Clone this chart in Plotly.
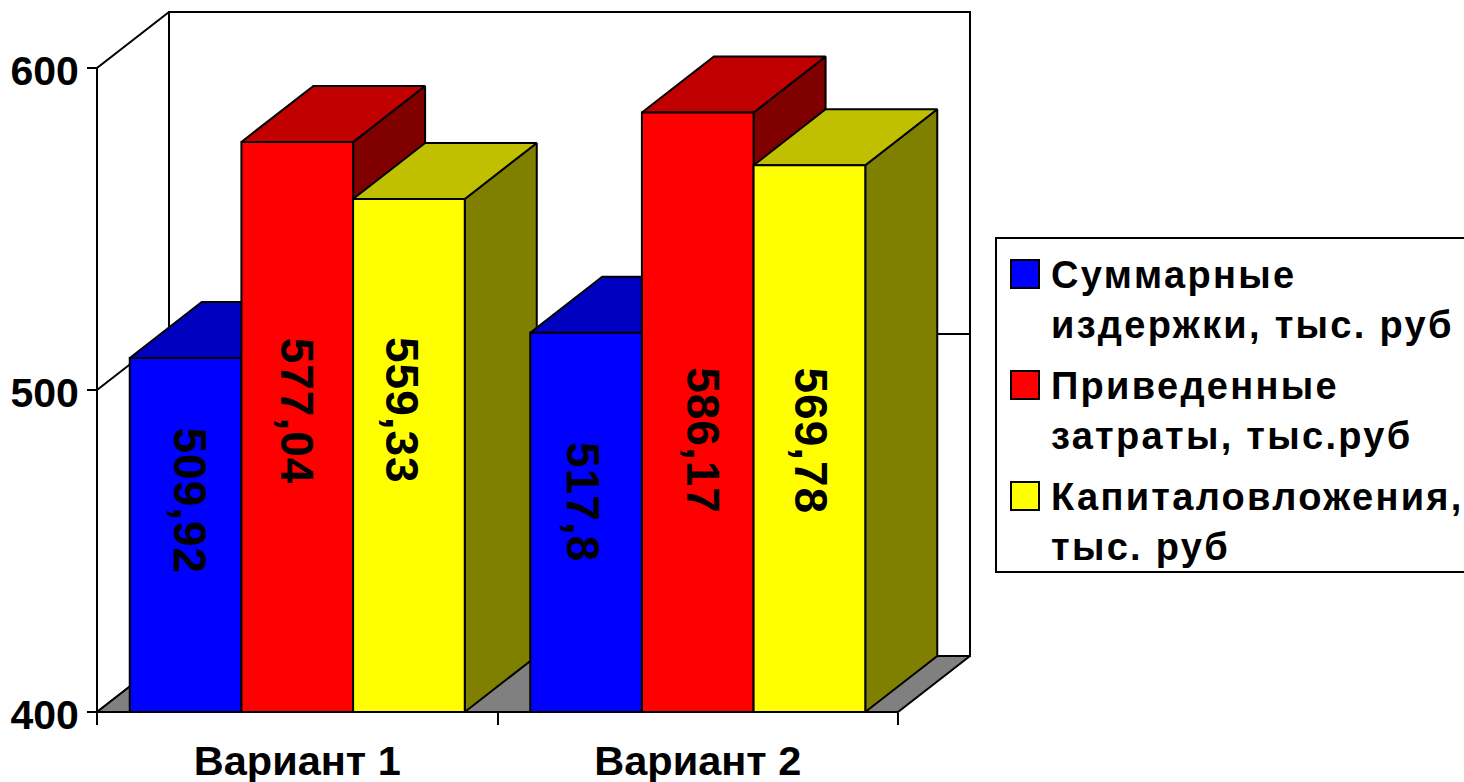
import plotly.graph_objects as go

W, H = 1464, 782

categories = ["Вариант 1", "Вариант 2"]
series_names = ["Суммарные издержки, тыс. руб", "Приведенные затраты, тыс.руб", "Капиталовложения, тыс. руб"]
values_costs = [509.92, 517.8]
values_reduced = [577.04, 586.17]
values_capital = [559.33, 569.78]
value_labels = [["509,92", "517,8"], ["577,04", "586,17"], ["559,33", "569,78"]]
label_mid = [[465.5, 465.2], [493.5, 484.2], [493.5, 484.2]]
label_shift = [[4, -3], [0, 5], [-7, 2]]
y_ticks = [400, 500, 600]
legend_lines = [["Суммарные", "издержки, тыс. руб"], ["Приведенные", "затраты, тыс.руб"], ["Капиталовложения,", "тыс. руб"]]

all_values = [values_costs, values_reduced, values_capital]
front = ["#0000ff", "#ff0000", "#ffff00"]
top_c = ["#0000c0", "#c00000", "#c0c000"]
side_c = ["#000080", "#800000", "#808000"]

# scales: pixels per data unit
PX_X, PX_Y = 400.5, 3.22
X0_PX, Y0_PX = 97, 712
xr = [-X0_PX / PX_X, (W - X0_PX) / PX_X]
yr = [400 - (H - Y0_PX) / PX_Y, 400 + Y0_PX / PX_Y]
DX, DY = 72 / PX_X, 56 / PX_Y
BASE, TOP = y_ticks[0], y_ticks[-1]
NCAT = len(categories)
GAP = 0.1635
BW = (1 - GAP) / 3
LINE = dict(color="black", width=2)

fig = go.Figure()


def poly(xs, ys, fill):
    fig.add_trace(go.Scatter(x=xs + xs[:1], y=ys + ys[:1], mode="lines", fill="toself", fillcolor=fill,
                             line=LINE, showlegend=False, hoverinfo="skip", xaxis="x", yaxis="y"))


def path(xs, ys):
    fig.add_trace(go.Scatter(x=xs, y=ys, mode="lines", line=LINE, showlegend=False, hoverinfo="skip",
                             xaxis="x", yaxis="y"))


# walls and floor
poly([0, DX, DX, 0], [BASE, BASE + DY, TOP + DY, TOP], "white")
poly([DX, NCAT + DX, NCAT + DX, DX], [BASE + DY, BASE + DY, TOP + DY, TOP + DY], "white")
poly([0, DX, NCAT + DX, NCAT], [BASE, BASE + DY, BASE + DY, BASE], "#808080")
path([0, DX, NCAT + DX], [500, 500 + DY, 500 + DY])

# depth faces of the columns, painted left to right
for g in range(NCAT):
    for s in range(3):
        v = all_values[s][g]
        left = g + 0.5 + (s - 1.5) * BW
        right = left + BW
        poly([right, right, right + DX, right + DX], [BASE, v, v + DY, BASE + DY], side_c[s])
        poly([left, right, right + DX, left + DX], [v, v, v + DY, v + DY], top_c[s])

# front faces of the columns
for s in range(3):
    fig.add_trace(go.Bar(x=[g + 0.5 for g in range(NCAT)], y=[v - BASE for v in all_values[s]], base=BASE,
                         name=series_names[s], marker=dict(color=front[s], line=LINE), showlegend=False,
                         xaxis="x2", yaxis="y2", hoverinfo="skip"))

path([0, NCAT], [BASE, BASE])
path([0, 0], [BASE, TOP])

ann = []
for s in range(3):
    for g in range(NCAT):
        ann.append(dict(x=g + 0.5 + (s - 1) * BW, y=label_mid[s][g], xref="x", yref="y",
                        text=f'<span style="letter-spacing:1px">{value_labels[s][g]}</span>',
                        textangle=90, showarrow=False, xshift=label_shift[s][g],
                        font=dict(family="Liberation Sans", size=46, color="black", weight="bold")))

# legend
shapes = [dict(type="rect", xref="paper", yref="paper", x0=996 / W, x1=1470 / W, y0=1 - 572 / H, y1=1 - 238 / H,
               line=dict(color="black", width=2), fillcolor="white", layer="above")]
swatch_top = [260, 371, 482]
line_mid = [[275, 325], [386, 436], [497, 547]]
for s in range(3):
    shapes.append(dict(type="rect", xref="paper", yref="paper", x0=1011 / W, x1=1039 / W,
                       y0=1 - (swatch_top[s] + 28) / H, y1=1 - swatch_top[s] / H,
                       line=dict(color="black", width=2), fillcolor=front[s], layer="above"))
    for k, t in enumerate(legend_lines[s]):
        ann.append(dict(x=1049 / W, y=1 - line_mid[s][k] / H, xref="paper", yref="paper", xanchor="left",
                        yanchor="middle", showarrow=False,
                        text=f'<span style="letter-spacing:2.3px">{t}</span>',
                        font=dict(family="Liberation Sans", size=38, color="black", weight="bold")))

fig.update_layout(
    width=W, height=H, margin=dict(l=0, r=0, t=0, b=0), autosize=False,
    paper_bgcolor="white", plot_bgcolor="white", showlegend=False,
    barmode="group", bargap=GAP, bargroupgap=0, annotations=ann, shapes=shapes,
    xaxis=dict(range=xr, domain=[0, 1], anchor="free", position=(H - Y0_PX) / H, showgrid=False, zeroline=False,
               automargin=False, showline=False, tickmode="array", tickvals=[g + 0.5 for g in range(NCAT)],
               ticktext=categories, ticks="", ticklabelstandoff=20,
               minor=dict(tickmode="array", tickvals=list(range(NCAT + 1)), ticks="outside", ticklen=12,
                          tickwidth=2, tickcolor="black", showgrid=False),
               tickfont=dict(family="Liberation Sans", size=41.5, color="black", weight="bold")),
    yaxis=dict(range=yr, domain=[0, 1], anchor="free", position=X0_PX / W, showgrid=False, zeroline=False,
               automargin=False, showline=False, tickmode="array", tickvals=y_ticks, ticks="outside", ticklen=10,
               tickwidth=2, ticklabelshift=3, tickcolor="black",
               tickfont=dict(family="Liberation Sans", size=41, color="black", weight="bold")),
    xaxis2=dict(range=xr, overlaying="x", visible=False),
    yaxis2=dict(range=yr, overlaying="y", visible=False),
)

fig.write_html("out.html", post_script="document.body.style.margin='0';", config={"displayModeBar": False})
